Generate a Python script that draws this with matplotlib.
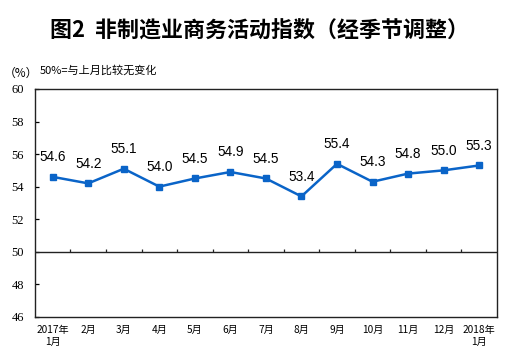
import numpy as np
import matplotlib.pyplot as plt

plt.rcParams['font.family'] = ['Noto Sans CJK SC', 'DejaVu Sans']

months = ['2017年\n1月', '2月', '3月', '4月', '5月', '6月', '7月', '8月',
          '9月', '10月', '11月', '12月', '2018年\n1月']
pmi = [54.6, 54.2, 55.1, 54.0, 54.5, 54.9, 54.5, 53.4, 55.4, 54.3, 54.8, 55.0, 55.3]
yticks = [46, 48, 50, 52, 54, 56, 58, 60]

fig = plt.figure(figsize=(5.06, 3.63), dpi=100)
ax = fig.add_axes([0.069, 0.127, 0.913, 0.628])

x = np.arange(len(months))
ax.plot(x, pmi, color='#0a64c8', lw=1.8, marker='s', ms=4.2, zorder=3)
for xi, v in zip(x, pmi):
    ax.annotate('%.1f' % v, (xi, v), xytext=(0, 9), textcoords='offset points',
                ha='center', va='bottom', fontsize=9.8, family='Liberation Sans')

ax.set_xlim(-0.5, len(months) - 0.5)
ax.set_ylim(46, 60)

# 50 reference line with category boundary ticks
ax.axhline(50, color='#222222', lw=1.0)
ax.vlines(x[:-1] + 0.5, 50, 50.2, color='#222222', lw=0.9)

ax.set_xticks(x)
ax.set_xticklabels(months, fontsize=7.3, fontweight='medium')
ax.tick_params(axis='x', length=0, pad=6)
ax.set_yticks(yticks)
ax.set_yticklabels([str(t) for t in yticks], family='Liberation Serif', fontsize=9)
ax.tick_params(axis='y', direction='in', length=3, width=0.9, pad=8)
for s in ax.spines.values():
    s.set_color('#222222')
    s.set_linewidth(1.0)

fig.text(0.512, 0.915, '图2  非制造业商务活动指数（经季节调整）', ha='center', va='center',
         fontsize=15.8, fontweight='bold')
fig.text(0.008, 0.797, '（%）', ha='left', va='center', fontsize=8.5)
fig.text(0.079, 0.805, '50%=与上月比较无变化', ha='left', va='center', fontsize=8)

fig.savefig('out.png', dpi=100)
